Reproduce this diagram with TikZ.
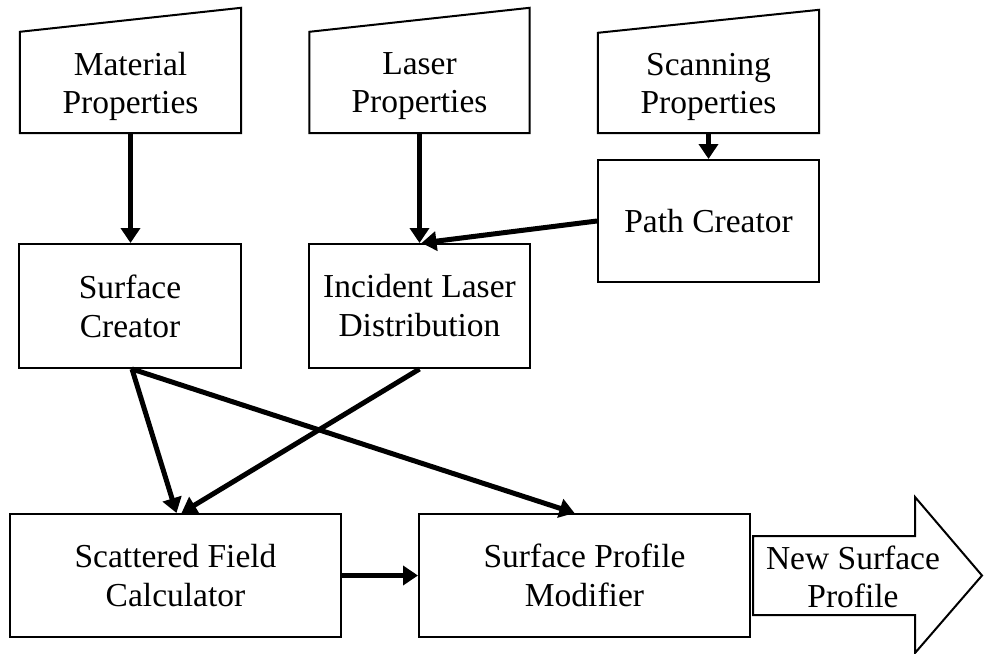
\documentclass[tikz,border=0pt]{standalone}
\usepackage{fontspec}
\setmainfont{Liberation Serif}
\usetikzlibrary{arrows.meta,calc}
\begin{document}
\begin{tikzpicture}[x=1pt,y=-1pt,
  box/.style={draw=black, line width=2pt, fill=white, align=center, inner sep=0pt,
    font=\fontsize{33.5}{39}\selectfont},
  inbox/.style={draw=none, align=center, inner sep=0pt,
    font=\fontsize{33.5}{38}\selectfont},
  outline/.style={draw=black, line width=2pt, fill=white, line join=miter},
  flow/.style={line width=5pt, -{Triangle[length=15pt,width=19pt]}}
]
\useasboundingbox (0,0) rectangle (984,653);

% manual input shapes
\node[inbox, minimum width=221pt, minimum height=101pt] (mat) at (130.5,82.5) {};
\draw[outline] (mat.south west) -- (mat.south east) -- ([yshift=24pt]mat.north east) -- (mat.north west) -- cycle;
\node[inbox] at ([yshift=-4pt]mat.center) {Material\\Properties};

\node[inbox, minimum width=220pt, minimum height=101pt] (las) at (419.5,82.5) {};
\draw[outline] (las.south west) -- (las.south east) -- ([yshift=24pt]las.north east) -- (las.north west) -- cycle;
\node[inbox] at ([yshift=-4pt]las.center) {Laser\\Properties};

\node[inbox, minimum width=221pt, minimum height=100pt] (scn) at (708.5,83) {};
\draw[outline] (scn.south west) -- (scn.south east) -- ([yshift=23pt]scn.north east) -- (scn.north west) -- cycle;
\node[inbox] at ([yshift=-4pt]scn.center) {Scanning\\Properties};

% process boxes
\node[box, minimum width=221pt, minimum height=122pt] (path) at (708.5,221) {Path Creator};
\node[box, minimum width=222pt, minimum height=124pt] (surf) at (130,306) {Surface\\Creator};
\node[box, minimum width=221pt, minimum height=124pt] (inc) at (419.5,306) {Incident Laser\\Distribution};
\node[box, minimum width=331pt, minimum height=123pt] (scat) at (175.5,575.5) {Scattered Field\\Calculator};
\node[box, minimum width=331pt, minimum height=123pt] (spm) at (584.5,575.5) {Surface Profile\\Modifier};

% output arrow
\draw[outline] (753,536) -- (915,536) -- (915,497) -- (982,575.5) -- (915,653) -- (915,615) -- (753,615) -- cycle;
\node[inbox] (newsurf) at (853,577) {New Surface\\Profile};

% connectors
\draw[flow] (mat.south) -- (mat.south |- surf.north);
\draw[flow] (las.south) -- (las.south |- inc.north);
\draw[flow] (scn.south) -- (path.north);
\draw[flow] (path.west) -- ([xshift=2pt]inc.north);
\draw[flow] ([xshift=2pt]surf.south) -- ([xshift=1pt]scat.north);
\draw[flow] (inc.south) -- ([xshift=6pt]scat.north);
\draw[flow] ([xshift=2pt]surf.south) -- ([xshift=-10pt]spm.north);
\draw[flow] (scat.east) -- (spm.west);
\end{tikzpicture}
\end{document}
